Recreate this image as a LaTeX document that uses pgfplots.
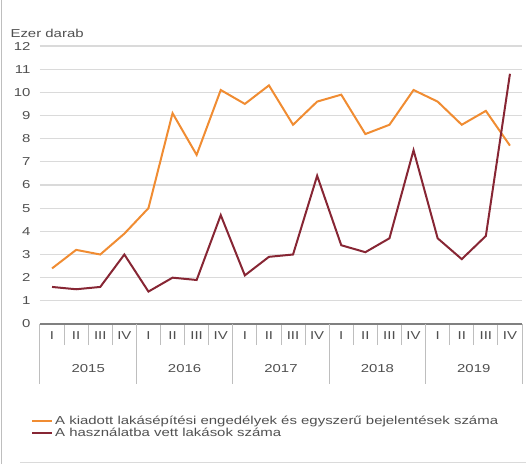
\documentclass[border=0pt]{standalone}
\usepackage{fontspec}
\setmainfont{Liberation Sans}[FakeStretch=1.3]
\usepackage{pgfplots}
\pgfplotsset{compat=1.18}
\definecolor{engorange}{RGB}{240,140,50}
\definecolor{usedred}{RGB}{135,38,52}
\definecolor{gridgray}{RGB}{218,218,218}
\definecolor{sepgray}{RGB}{190,190,190}
\definecolor{txtgray}{RGB}{80,80,80}
\newcommand{\lbl}{\fontsize{11.5}{13}\selectfont}
\begin{document}
\begin{tikzpicture}[x=1pt,y=1pt]
\useasboundingbox (-40,-140) rectangle (486,324);
\draw[sepgray, line width=1pt] (-38,-140) -- (-38,324);
\draw[gridgray, line width=1pt] (-20,-138) -- (486,-138);
\node[anchor=west, font=\lbl, txtgray] at (-33,291) {Ezer darab};
\begin{axis}[
    at={(0,0)}, anchor=south west,
    width=482pt, height=278pt, scale only axis,
    xmin=-0.5, xmax=19.5,
    ymin=0, ymax=12,
    ytick={0,1,...,12},
    ymajorgrids=true,
    grid style={gridgray, line width=1.2pt},
    axis x line*=bottom, axis y line*=left,
    y axis line style={draw=none},
    x axis line style={-, gray, line width=1.2pt},
    y tick style={draw=none},
    major tick length=0pt,
    yticklabel style={font=\lbl, txtgray, xshift=-6pt},
    /pgf/number format/assume math mode=true,
    xtick={0,1,...,19},
    xticklabels={I,II,III,IV,I,II,III,IV,I,II,III,IV,I,II,III,IV,I,II,III,IV},
    xticklabel style={font=\lbl, txtgray, yshift=-4pt},
    minor xtick={-0.5,0.5,...,19.5},
    minor tick length=21pt,
    tick align=outside,
    minor x tick style={sepgray, line width=1pt},
    clip=false,
    legend style={at={(0,0)}, anchor=north west, xshift=-12pt, yshift=-88pt,
        draw=none, fill=none, font=\lbl, text=txtgray,
        row sep=-2pt},
    legend cell align=left,
    legend image code/.code={\draw[#1, line width=2pt] (0pt,0pt) -- (20pt,0pt);},
]
\addplot[engorange, line width=2pt] coordinates {
(0,2.4) (1,3.2) (2,3.0) (3,3.9)
(4,5.0) (5,9.1) (6,7.3) (7,10.1)
(8,9.5) (9,10.3) (10,8.6) (11,9.6)
(12,9.9) (13,8.2) (14,8.6) (15,10.1)
(16,9.6) (17,8.6) (18,9.2) (19,7.7)};
\addlegendentry{A kiadott lakásépítési engedélyek és egyszerű bejelentések száma}
\addplot[usedred, line width=2pt] coordinates {
(0,1.6) (1,1.5) (2,1.6) (3,3.0)
(4,1.4) (5,2.0) (6,1.9) (7,4.7)
(8,2.1) (9,2.9) (10,3.0) (11,6.4)
(12,3.4) (13,3.1) (14,3.7) (15,7.5)
(16,3.7) (17,2.8) (18,3.8) (19,10.8)};
\addlegendentry{A használatba vett lakások száma}
\pgfplotsinvokeforeach{-0.5,3.5,7.5,11.5,15.5,19.5}{
  \draw[sepgray, line width=1pt] (axis cs:#1,0) -- ([yshift=-60pt]axis cs:#1,0);
}
\node[font=\lbl, txtgray] at ([yshift=-45pt]axis cs:1.5,0) {2015};
\node[font=\lbl, txtgray] at ([yshift=-45pt]axis cs:5.5,0) {2016};
\node[font=\lbl, txtgray] at ([yshift=-45pt]axis cs:9.5,0) {2017};
\node[font=\lbl, txtgray] at ([yshift=-45pt]axis cs:13.5,0) {2018};
\node[font=\lbl, txtgray] at ([yshift=-45pt]axis cs:17.5,0) {2019};
\end{axis}
\end{tikzpicture}
\end{document}
